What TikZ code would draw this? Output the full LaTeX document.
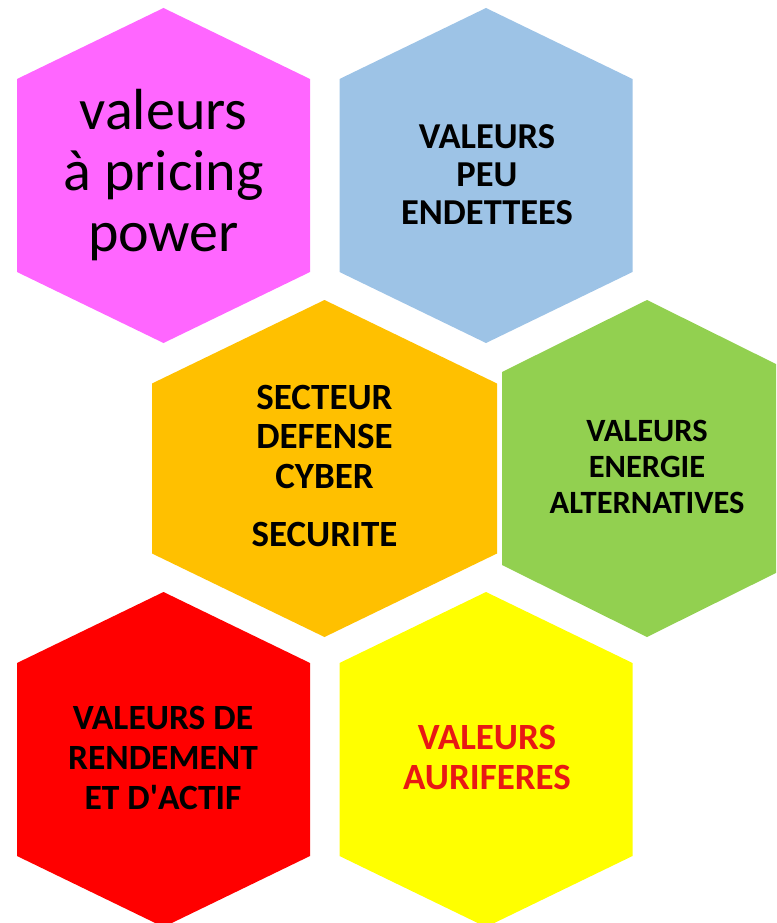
\documentclass[tikz,border=0pt]{standalone}
\usepackage{fontspec}
\setmainfont{Carlito}
\usepackage{tikz}
\definecolor{hexRose}{RGB}{255,102,255}
\definecolor{hexBleu}{RGB}{157,195,230}
\definecolor{hexOrange}{RGB}{255,192,0}
\definecolor{hexVert}{RGB}{146,208,80}
\definecolor{hexRouge}{RGB}{255,0,0}
\definecolor{hexJaune}{RGB}{255,255,0}
\definecolor{texteRouge}{RGB}{232,24,20}

\begin{document}
\begin{tikzpicture}[x=1pt,y=-1pt,
  label node/.style={align=center,inner sep=0pt},
  bold size/.style 2 args={font=\fontsize{#1}{#2}\selectfont\bfseries}]

  \clip (0,0) rectangle (776,923);

  % alveoles
  \fill[hexRose]   (163.5,8)   -- ++(146.5,71) -- ++(0,193) -- ++(-146.5,71) -- ++(-146.5,-71) -- ++(0,-193) -- cycle;
  \fill[hexBleu]   (486,8)     -- ++(146.5,71) -- ++(0,193) -- ++(-146.5,71) -- ++(-146.5,-71) -- ++(0,-193) -- cycle;
  \fill[hexOrange] (324.5,300) -- ++(172.5,83.5) -- ++(0,170) -- ++(-172.5,83.5) -- ++(-172.5,-83.5) -- ++(0,-170) -- cycle;
  \fill[hexVert]   (647,300)   -- ++(145,72) -- ++(0,193) -- ++(-145,72) -- ++(-145,-72) -- ++(0,-193) -- cycle;
  \fill[hexRouge]  (163.5,592) -- ++(146.5,71) -- ++(0,193) -- ++(-146.5,71) -- ++(-146.5,-71) -- ++(0,-193) -- cycle;
  \fill[hexJaune]  (486,592)   -- ++(146.5,71) -- ++(0,193) -- ++(-146.5,71) -- ++(-146.5,-71) -- ++(0,-193) -- cycle;

  % textes
  \node[label node,font=\fontsize{58}{61}\selectfont] (pricing) at (163.5,175) {valeurs\\à pricing\\power};
  \node[label node,bold size={36.5}{38}] (endettees) at (487,174.5) {VALEURS\\PEU\\ENDETTEES};
  \node[label node,bold size={37}{39.5}] (defense) at (324.5,465.5) {SECTEUR\\DEFENSE\\CYBER\\[18.5pt]SECURITE};
  \node[label node,bold size={32.5}{36}] (energie) at (647,467) {VALEURS\\ENERGIE\\ALTERNATIVES};
  \node[label node,bold size={35.5}{40}] (rendement) at (163,758) {VALEURS DE\\RENDEMENT\\ET D\textquotesingle ACTIF};
  \node[label node,bold size={37}{40},text=texteRouge] (auriferes) at (487,757.5) {VALEURS\\AURIFERES};
\end{tikzpicture}
\end{document}
